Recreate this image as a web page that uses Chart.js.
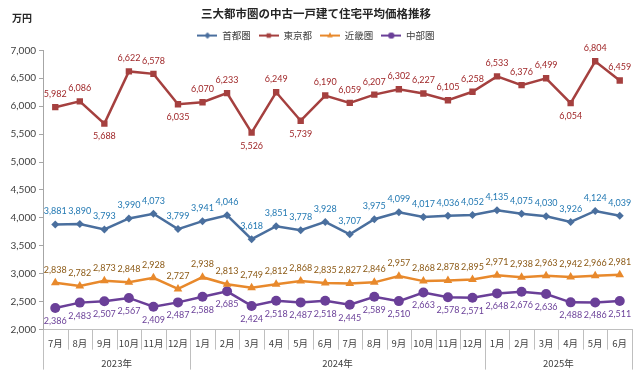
<!DOCTYPE html>
<html><head><meta charset="utf-8">
<script src="https://cdn.jsdelivr.net/npm/chart.js@4.4.1/dist/chart.umd.min.js"></script>
<style>html,body{margin:0;padding:0;background:#fff}</style>
</head><body>
<canvas id="c" width="640" height="385"></canvas>
<script>
// ---- data ----
const months = ['7月','8月','9月','10月','11月','12月','1月','2月','3月','4月','5月','6月','7月','8月','9月','10月','11月','12月','1月','2月','3月','4月','5月','6月'];
const yearLabels = ['2023年','2024年','2025年'];
const yearSpans = [6, 12, 6];
const seriesNames = ['首都圏','東京都','近畿圏','中部圏'];
const shutoken = [3881,3890,3793,3990,4073,3799,3941,4046,3618,3851,3778,3928,3707,3975,4099,4017,4036,4052,4135,4075,4030,3926,4124,4039];
const tokyo = [5982,6086,5688,6622,6578,6035,6070,6233,5526,6249,5739,6190,6059,6207,6302,6227,6105,6258,6533,6376,6499,6054,6804,6459];
const kinki = [2838,2782,2873,2848,2928,2727,2938,2813,2749,2812,2868,2835,2827,2846,2957,2868,2878,2895,2971,2938,2963,2942,2966,2981];
const chubu = [2386,2483,2507,2567,2409,2487,2588,2685,2424,2518,2487,2518,2445,2589,2510,2663,2578,2571,2648,2676,2636,2488,2486,2511];
const yTicksMin = 2000, yTicksMax = 7000, yTickStep = 500;

// ---- styles ----
const lineColors = ['#4a6f9e','#a5403f','#e8892c','#6a3f98'];
const labelColors = ['#2379b3','#a0282a','#8c5a16','#6a3f98'];
const pointStyles = ['rectRot','rect','triangle','circle'];
const pointRadii = [4, 4.5, 5, 5];
const labelBelow = [[], [2,5,8,10,21], [], 'all'];

function legendIcon(i){
  const cv = document.createElement('canvas');
  cv.width = 20; cv.height = 10;
  const ctx = cv.getContext('2d');
  ctx.strokeStyle = lineColors[i]; ctx.lineWidth = 2;
  ctx.beginPath(); ctx.moveTo(0,5); ctx.lineTo(20,5); ctx.stroke();
  ctx.fillStyle = lineColors[i];
  Chart.helpers.drawPoint(ctx, {pointStyle: pointStyles[i], radius: 3, borderWidth: 0}, 10, 5);
  ctx.fill();
  return cv;
}

const dataArrays = [shutoken, tokyo, kinki, chubu];

const extras = {
  id: 'extras',
  afterDatasetsDraw(chart){
    const ctx = chart.ctx;
    ctx.save();
    ctx.font = '9px Lato, "Noto Sans", sans-serif';
    ctx.textAlign = 'center';
    ctx.textBaseline = 'middle';
    chart.data.datasets.forEach((ds, di) => {
      const meta = chart.getDatasetMeta(di);
      meta.data.forEach((pt, i) => {
        const below = labelBelow[di] === 'all' || labelBelow[di].includes(i);
        ctx.fillStyle = labelColors[di];
        ctx.fillText(ds.data[i].toLocaleString('en-US'), pt.x, below ? pt.y + 13 : pt.y - 13);
      });
    });
    ctx.restore();
  },
  afterDraw(chart){
    const ctx = chart.ctx;
    const xs = chart.scales.x;
    const axisY = chart.chartArea.bottom;
    const n = months.length;
    const half = (xs.getPixelForValue(1) - xs.getPixelForValue(0)) / 2;
    const yearBounds = [0];
    yearSpans.forEach(s => yearBounds.push(yearBounds[yearBounds.length-1] + s));
    ctx.save();
    ctx.strokeStyle = '#bfbfbf';
    ctx.lineWidth = 1;
    for (let i = 0; i <= n; i++){
      const x = Math.round(i < n ? xs.getPixelForValue(i) - half : xs.getPixelForValue(n-1) + half) + 0.5;
      const isYear = yearBounds.includes(i);
      ctx.beginPath();
      ctx.moveTo(x, axisY);
      ctx.lineTo(x, axisY + (isYear ? 40 : 20));
      ctx.stroke();
    }
    ctx.fillStyle = '#404040';
    ctx.font = '9.5px "Noto Sans CJK JP", sans-serif';
    ctx.textAlign = 'center';
    ctx.textBaseline = 'middle';
    yearLabels.forEach((lab, k) => {
      const a = xs.getPixelForValue(yearBounds[k]) - half;
      const b = xs.getPixelForValue(yearBounds[k+1]-1) + half;
      ctx.fillText(lab, (a+b)/2, axisY + 34);
    });
    ctx.font = 'bold 10px "Noto Sans CJK JP", sans-serif';
    ctx.textAlign = 'left';
    ctx.fillStyle = '#262626';
    ctx.fillText('万円', 12, 18);
    ctx.restore();
  }
};

new Chart(document.getElementById('c'), {
  type: 'line',
  data: {
    labels: months,
    datasets: dataArrays.map((d, i) => ({
      label: seriesNames[i],
      data: d,
      borderColor: lineColors[i],
      backgroundColor: lineColors[i],
      borderWidth: 2.5,
      pointStyle: pointStyles[i],
      pointRadius: pointRadii[i],
      pointBorderWidth: 0,
      pointBackgroundColor: lineColors[i],
      tension: 0
    }))
  },
  options: {
    responsive: false,
    devicePixelRatio: 1,
    animation: false,
    layout: { padding: { left: 0, right: 8, top: 0, bottom: 28 } },
    plugins: {
      title: {
        display: true,
        text: '三大都市圏の中古一戸建て住宅平均価格推移',
        color: '#262626',
        font: { family: '"Noto Sans CJK JP", sans-serif', size: 11.5, weight: 'bold' },
        padding: { top: 7, bottom: 2 }
      },
      legend: {
        display: true,
        labels: {
          usePointStyle: true,
          pointStyleWidth: 20,
          boxHeight: 10,
          padding: 8,
          color: '#404040',
          font: { family: '"Noto Sans CJK JP", sans-serif', size: 9.5 },
          generateLabels(chart){
            return chart.data.datasets.map((ds, i) => ({
              text: ds.label,
              pointStyle: legendIcon(i),
              fillStyle: lineColors[i],
              strokeStyle: lineColors[i],
              lineWidth: 0,
              fontColor: '#404040',
              datasetIndex: i
            }));
          }
        }
      },
      tooltip: { enabled: false }
    },
    scales: {
      x: {
        type: 'category',
        offset: true,
        grid: { drawOnChartArea: false, drawTicks: false },
        border: { display: true, color: '#bfbfbf', width: 1 },
        ticks: {
          autoSkip: false, maxRotation: 0, padding: 8,
          color: '#404040',
          font: { family: '"Noto Sans CJK JP", sans-serif', size: 9.5 }
        }
      },
      y: {
        min: yTicksMin, max: yTicksMax,
        afterFit(scale){ scale.width = 43; },
        grid: { drawOnChartArea: false, drawTicks: true, tickLength: 4, color: '#a6a6a6' },
        border: { display: true, color: '#a6a6a6', width: 1 },
        ticks: {
          stepSize: yTickStep, padding: 3,
          color: '#404040',
          font: { family: 'Lato, "Noto Sans", sans-serif', size: 10 },
          callback: v => v.toLocaleString('en-US')
        }
      }
    }
  },
  plugins: [extras]
});
</script>
</body></html>
